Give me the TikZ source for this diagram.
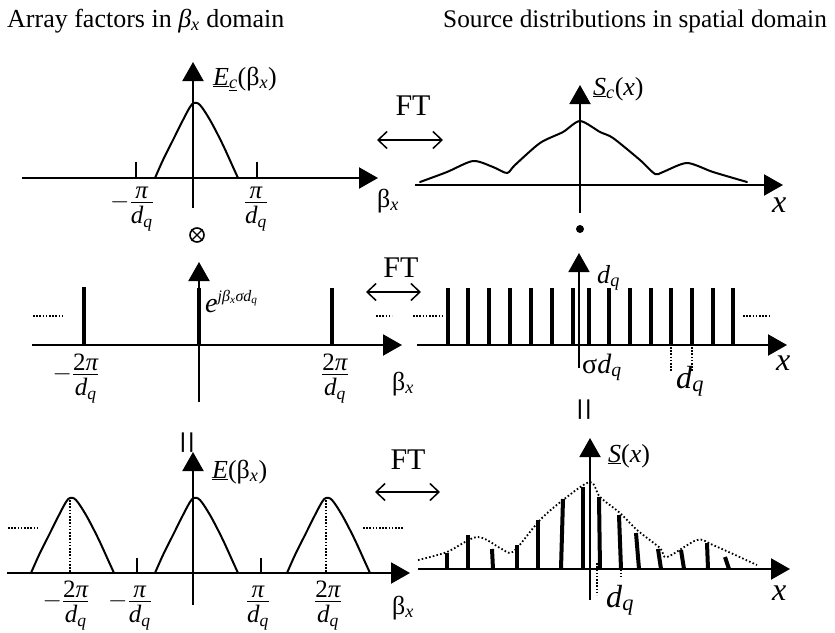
\documentclass[tikz,border=0pt]{standalone}
\usepackage{fontspec}
\setmainfont{Liberation Serif}
\usetikzlibrary{arrows.meta}
\newcommand{\myhump}[2]{%
  \begin{scope}[shift={(#1,#2)}]
    \draw[curve] plot[smooth,tension=0.55] coordinates {(0,0) (8,-18) (18,-38) (28,-58) (35,-71) (39,-75) (45,-73) (55,-58) (67,-35) (78,-11) (83,0)};
  \end{scope}}
\newcommand{\dq}{\textit{d}\textsubscript{\textit{q}}}
\newcommand{\myfr}[2]{$\frac{\hbox{#1}}{\hbox{\rule{0pt}{21pt}#2}}$}
\begin{document}
\begin{tikzpicture}[x=1pt,y=-1pt,
  axis/.style={line width=2.2pt,-{Triangle[length=19pt,width=21pt]}},
  vaxis/.style={line width=2pt,-{Triangle[length=19pt,width=21pt]}},
  curve/.style={line width=2pt,line join=round,line cap=round},
  impulse/.style={line width=4pt},
  tick/.style={line width=2pt},
  dotline/.style={line width=1.6pt,dash pattern=on 1.6pt off 1.6pt},
  envelope/.style={line width=1.8pt,dash pattern=on 1.6pt off 2.2pt},
  ftarrow/.style={line width=1.5pt,{Straight Barb[length=9pt,width=17pt]}-{Straight Barb[length=9pt,width=17pt]}},
  lbl/.style={inner sep=0pt,anchor=base west,font=\fontsize{26}{30}\selectfont},
  biglbl/.style={inner sep=0pt,anchor=base west,font=\fontsize{32}{36}\selectfont},
  ftlbl/.style={inner sep=0pt,anchor=center,font=\fontsize{30}{34}\selectfont},
  frac/.style={inner sep=0pt,anchor=base,font=\fontsize{25}{28}\selectfont},
  eqsign/.style={inner sep=0pt,anchor=center,rotate=90,font=\fontsize{42}{44}\selectfont}
]
\useasboundingbox (0,0) rectangle (835,632);

% titles
\node[lbl] (t1) at (7,27) {Array factors in \textit{β}\textsubscript{\textit{x}} domain};
\node[inner sep=0pt,anchor=base west,font=\fontsize{25.3}{30}\selectfont] (t2) at (443,27) {Source distributions in spatial domain};

% ---------- Row 1 left ----------
\draw[axis] (22,178) -- (378,178);
\draw[vaxis] (193,208) -- (193,62);
\draw[tick] (136,162) -- (136,178);
\draw[tick] (257,162) -- (257,178);
\myhump{155}{178}
\node[lbl] (Ec) at (213,85) {\underline{\textit{E}}\textsubscript{\underline{\textit{c}}}(β\textsubscript{\textit{x}})};
\node[frac] (fr1) at (132,208) {$-$\myfr{\itshape π}{\dq}};
\node[frac] (fr2) at (256,208) {\myfr{\itshape π}{\dq}};
\node[lbl] (bx1) at (377,207) {β\textsubscript{\textit{x}}};

% FT 1
\node[ftlbl] (ft1) at (413,106) {FT};
\coordinate (ft1l) at (377,140);
\coordinate (ft1r) at (443,140);
\draw[ftarrow] (ft1l) -- (ft1r);

% ---------- Row 1 right ----------
\draw[axis] (415,185) -- (783,185);
\draw[vaxis] (580,213) -- (580,85);
\draw[curve] plot[smooth,tension=0.45] coordinates {(420,182) (447,172) (473,161) (493,167) (507,173) (515,165) (540,143) (563,132) (580,121) (600,132) (613,138) (640,160) (655,174) (663,172) (687,163) (713,172) (747,182)};
\node[lbl] (Sc) at (593,95) {\underline{\textit{S}}\textsubscript{\textit{c}}(\textit{x})};
\node[biglbl] (x1) at (772,212) {\textit{x}};

% operators
\node[draw,circle,line width=1.6pt,minimum size=14pt,inner sep=0pt] (otimes) at (197,235) {};
\draw[line width=1.4pt] (otimes.north west) -- (otimes.south east);
\draw[line width=1.4pt] (otimes.north east) -- (otimes.south west);
\node[circle,fill,minimum size=8pt,inner sep=0pt] (dot) at (580,229) {};

% ---------- Row 2 left ----------
\draw[axis] (32,345) -- (402,345);
\draw[vaxis] (199,402) -- (199,262);
\draw[impulse] (84,345) -- (84,287);
\draw[impulse] (199,345) -- (199,288);
\draw[impulse] (332,345) -- (332,288);
\draw[dotline] (33,316) -- (62,316);
\draw[dotline] (376,316) -- (392,316);
\node[inner sep=0pt,anchor=base west,font=\fontsize{28}{30}\selectfont] (ej) at (205,312) {\textit{e}\raisebox{11pt}{\fontsize{16}{18}\selectfont\textit{jβ}\textsubscript{\textit{x}}\textit{σd}\textsubscript{\textit{q}}}};
\node[frac] (fr3) at (76,380) {$-$\myfr{2\itshape π}{\dq}};
\node[frac] (fr4) at (335,380) {\myfr{2\itshape π}{\dq}};
\node[lbl] (bx2) at (392,390) {β\textsubscript{\textit{x}}};

% FT 2
\node[ftlbl] (ft2) at (401,268) {FT};
\coordinate (ft2l) at (366,292);
\coordinate (ft2r) at (421,292);
\draw[ftarrow] (ft2l) -- (ft2r);

% ---------- Row 2 right ----------
\draw[axis] (417,345) -- (787,345);
\foreach \xx in {448,468,489,510,531,552,573,589,609,630,651,671,692,713,733}
  \draw[impulse] (\xx,345) -- (\xx,288);
\draw[line width=1.8pt,-{Triangle[length=19pt,width=21pt]}] (579,368) -- (579,253);
\draw[dotline] (413,316) -- (442,316);
\draw[dotline] (743,316) -- (770,316);
\node[lbl] (dq1) at (597,283) {\dq};
\node[inner sep=0pt,anchor=base west,font=\fontsize{28}{32}\selectfont] (sdq) at (582,373) {σ\dq};
\draw[dotline] (671,347) -- (671,372);
\draw[dotline] (692,347) -- (692,372);
\node[biglbl] (dq2) at (676,388) {\dq};
\node[biglbl] (x2) at (776,370) {\textit{x}};
\node[eqsign] (eq1) at (589,410) {=};

% ---------- Row 3 left ----------
\node[eqsign] (eq2) at (192,443) {=};
\draw[axis] (7,573) -- (410,573);
\draw[vaxis] (193,605) -- (193,452);
\myhump{31}{573}
\myhump{155}{573}
\myhump{287}{573}
\draw[dotline] (70,500) -- (70,573);
\draw[dotline] (326,500) -- (326,573);
\draw[tick] (137,558) -- (137,573);
\draw[tick] (261,558) -- (261,573);
\draw[dotline] (8,528) -- (37,528);
\draw[dotline] (363,528) -- (403,528);
\node[lbl] (E) at (212,478) {\underline{\textit{E}}(β\textsubscript{\textit{x}})};
\node[frac] (fr5) at (66,607) {$-$\myfr{2\itshape π}{\dq}};
\node[frac] (fr6) at (130,607) {$-$\myfr{\itshape π}{\dq}};
\node[frac] (fr7) at (258,607) {\myfr{\itshape π}{\dq}};
\node[frac] (fr8) at (328,607) {\myfr{2\itshape π}{\dq}};
\node[lbl] (bx3) at (392,614) {β\textsubscript{\textit{x}}};

% FT 3
\node[ftlbl] (ft3) at (408,460) {FT};
\coordinate (ft3l) at (375,492);
\coordinate (ft3r) at (440,492);
\draw[ftarrow] (ft3l) -- (ft3r);

% ---------- Row 3 right ----------
\draw[axis] (418,569) -- (790,569);
\draw[envelope] plot[smooth,tension=0.5] coordinates {(418,560) (447,552) (477,537) (500,548) (510,553) (518,547) (540,520) (563,500) (590,482) (600,497) (620,513) (637,530) (660,548) (667,557) (697,540) (713,545) (757,565)};
\foreach \xb/\xt/\yt in {447/447/553, 468/468/535, 493/492/549, 517/517/545, 538/538/520, 561/563/499, 583/583/487, 600/599/497, 621/619/515, 639/636/533, 661/658/549, 684/681/550, 708/707/543, 729/725/557}
  \draw[impulse] (\xb,569) -- (\xt,\yt);
\draw[vaxis] (590,600) -- (590,438);
\draw[dotline] (597,563) -- (597,595);
\draw[dotline] (621,563) -- (621,577);
\node[lbl] (S) at (608,462) {\underline{\textit{S}}(\textit{x})};
\node[biglbl] (dq3) at (606,607) {\dq};
\node[biglbl] (x3) at (772,600) {\textit{x}};
\end{tikzpicture}
\end{document}
